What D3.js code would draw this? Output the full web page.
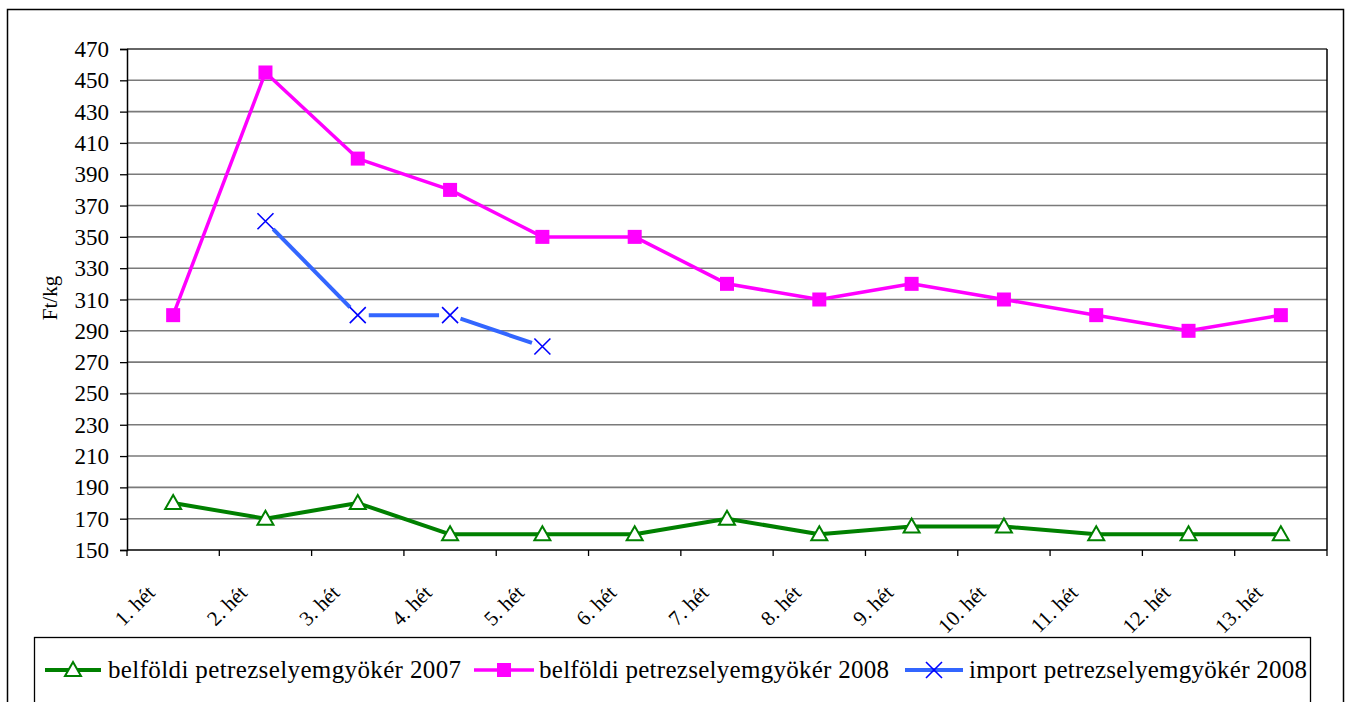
<!DOCTYPE html>
<html>
<head>
<meta charset="utf-8">
<script src="https://cdn.jsdelivr.net/npm/d3@7"></script>
<style>
  body { margin: 0; background: #fff; }
  svg text { font-family: "Liberation Serif", "Times New Roman", serif; fill: #000; }
</style>
</head>
<body>
<svg id="chart" width="1346" height="702"></svg>
<script>
// data
var weeks = ["1. hét", "2. hét", "3. hét", "4. hét", "5. hét", "6. hét", "7. hét",
             "8. hét", "9. hét", "10. hét", "11. hét", "12. hét", "13. hét"];
var belfoldi2007 = [180, 170, 180, 160, 160, 160, 170, 160, 165, 165, 160, 160, 160];
var belfoldi2008 = [300, 455, 400, 380, 350, 350, 320, 310, 320, 310, 300, 290, 300];
var import2008 = [null, 360, 300, 300, 280, null, null, null, null, null, null, null, null];
var yTicks = [150, 170, 190, 210, 230, 250, 270, 290, 310, 330, 350, 370, 390, 410, 430, 450, 470];
var seriesNames = ["belföldi petrezselyemgyökér 2007", "belföldi petrezselyemgyökér 2008", "import petrezselyemgyökér 2008"];

var serif = "'Liberation Serif', 'Times New Roman', serif";
var svg = d3.select("#chart");

// outer chart frame
svg.append("rect")
    .attr("x", 7.5).attr("y", 9.5)
    .attr("width", 1336).attr("height", 720)
    .attr("fill", "none").attr("stroke", "#000").attr("stroke-width", 1.5);

var plot = { left: 127, top: 49, right: 1327, bottom: 550 };

var x = d3.scaleBand()
    .domain(weeks)
    .range([plot.left, plot.right])
    .padding(0);

var y = d3.scaleLinear()
    .domain([150, 470])
    .range([plot.bottom, plot.top]);

function cx(i) { return x(weeks[i]) + x.bandwidth() / 2; }

// gridlines
svg.append("g").selectAll("line")
    .data(yTicks.slice(1, -1))
    .enter().append("line")
    .attr("x1", plot.left).attr("x2", plot.right)
    .attr("y1", function (d) { return y(d); })
    .attr("y2", function (d) { return y(d); })
    .attr("stroke", "#7a7a7a").attr("stroke-width", 1.6);

// plot border
svg.append("line")
    .attr("x1", plot.left).attr("x2", plot.right)
    .attr("y1", plot.top).attr("y2", plot.top)
    .attr("stroke", "#333").attr("stroke-width", 1.6);
svg.append("line")
    .attr("x1", plot.right).attr("x2", plot.right)
    .attr("y1", plot.top).attr("y2", plot.bottom)
    .attr("stroke", "#000").attr("stroke-width", 1.5);

// y axis: ticks from d3, labels drawn separately
var yAxis = svg.append("g")
    .attr("transform", "translate(" + plot.left + ",0)")
    .call(d3.axisLeft(y).tickValues(yTicks).tickSize(7).tickFormat(""));
yAxis.select(".domain").attr("stroke", "#000").attr("stroke-width", 1.5);
yAxis.selectAll(".tick line").attr("stroke", "#000").attr("stroke-width", 1.3);

svg.append("g").selectAll("text")
    .data(yTicks)
    .enter().append("text")
    .attr("x", plot.left - 18)
    .attr("y", function (d) { return y(d); })
    .attr("dy", "0.35em")
    .attr("text-anchor", "end")
    .style("font-size", "23px")
    .style("font-family", serif)
    .text(function (d) { return d; });

// x axis (ticks at category boundaries)
var xAxisG = svg.append("g");
xAxisG.append("line")
    .attr("x1", plot.left).attr("x2", plot.right)
    .attr("y1", plot.bottom).attr("y2", plot.bottom)
    .attr("stroke", "#000").attr("stroke-width", 1.5);
xAxisG.selectAll("line.tk")
    .data(weeks.concat(["end"]))
    .enter().append("line")
    .attr("class", "tk")
    .attr("x1", function (d, i) { return plot.left + i * x.bandwidth(); })
    .attr("x2", function (d, i) { return plot.left + i * x.bandwidth(); })
    .attr("y1", plot.bottom).attr("y2", plot.bottom + 6)
    .attr("stroke", "#000").attr("stroke-width", 1.3);
xAxisG.selectAll("text")
    .data(weeks)
    .enter().append("text")
    .attr("transform", function (d, i) {
        return "translate(" + (cx(i) - 17) + "," + (plot.bottom + 44) + ") rotate(-45)";
    })
    .attr("text-anchor", "end")
    .style("font-size", "21px")
    .style("font-family", serif)
    .text(function (d) { return d; });

// y axis title
svg.append("text")
    .attr("transform", "translate(57,298) rotate(-90)")
    .attr("text-anchor", "middle")
    .style("font-size", "21px")
    .style("font-family", serif)
    .text("Ft/kg");

// series lines
var line = d3.line()
    .defined(function (d) { return d != null; })
    .x(function (d, i) { return cx(i); })
    .y(function (d) { return y(d); });

svg.append("path")
    .datum(belfoldi2007)
    .attr("d", line)
    .attr("fill", "none").attr("stroke", "#008000").attr("stroke-width", 4)
    .attr("stroke-linejoin", "round");

svg.append("path")
    .datum(belfoldi2008)
    .attr("d", line)
    .attr("fill", "none").attr("stroke", "#ff00ff").attr("stroke-width", 3.5)
    .attr("stroke-linejoin", "round");

// import line: segments stop short of the markers
var importSegs = [];
import2008.forEach(function (v, i) {
    var n = import2008[i + 1];
    if (v != null && n != null) importSegs.push({ x1: cx(i), y1: y(v), x2: cx(i + 1), y2: y(n) });
});
svg.append("g").selectAll("line")
    .data(importSegs)
    .enter().append("line")
    .each(function (d) {
        var dx = d.x2 - d.x1, dy = d.y2 - d.y1, len = Math.sqrt(dx * dx + dy * dy);
        var g = 11;
        d3.select(this)
            .attr("x1", d.x1 + dx / len * g).attr("y1", d.y1 + dy / len * g)
            .attr("x2", d.x2 - dx / len * g).attr("y2", d.y2 - dy / len * g);
    })
    .attr("stroke", "#3366ff").attr("stroke-width", 4);

// markers
function drawTriangle(g, px, py) {
    g.append("path")
        .attr("d", "M0,-8L8,6L-8,6Z")
        .attr("transform", "translate(" + px + "," + py + ")")
        .attr("fill", "#fff").attr("stroke", "#008000").attr("stroke-width", 2);
}
function drawSquare(g, px, py) {
    g.append("rect")
        .attr("x", px - 7).attr("y", py - 7)
        .attr("width", 14).attr("height", 14)
        .attr("fill", "#ff00ff");
}
function drawCross(g, px, py) {
    g.append("path")
        .attr("d", "M-8,-8L8,8M-8,8L8,-8")
        .attr("transform", "translate(" + px + "," + py + ")")
        .attr("stroke", "#0000ff").attr("stroke-width", 1.6).attr("fill", "none");
}

var mk = svg.append("g");
belfoldi2007.forEach(function (v, i) { drawTriangle(mk, cx(i), y(v)); });
belfoldi2008.forEach(function (v, i) { drawSquare(mk, cx(i), y(v)); });
import2008.forEach(function (v, i) { if (v != null) drawCross(mk, cx(i), y(v)); });

// legend
svg.append("rect")
    .attr("x", 34.5).attr("y", 637.5)
    .attr("width", 1276).attr("height", 100)
    .attr("fill", "#fff").attr("stroke", "#000").attr("stroke-width", 1.3);

var legendItems = [
    { name: seriesNames[0], x0: 45, x1: 101, tx: 108, tw: 353, color: "#008000", w: 4, marker: drawTriangle },
    { name: seriesNames[1], x0: 474, x1: 534, tx: 539, tw: 350, color: "#ff00ff", w: 3.5, marker: drawSquare },
    { name: seriesNames[2], x0: 905, x1: 963, tx: 969, tw: 338, color: "#3366ff", w: 4, marker: drawCross }
];
var ly = 670;
var lg = svg.append("g");
legendItems.forEach(function (d) {
    lg.append("line")
        .attr("x1", d.x0).attr("x2", d.x1)
        .attr("y1", ly).attr("y2", ly)
        .attr("stroke", d.color).attr("stroke-width", d.w);
    d.marker(lg, (d.x0 + d.x1) / 2, ly);
    lg.append("text")
        .attr("x", d.tx).attr("y", ly + 8)
        .style("font-size", "25px")
        .style("font-family", serif)
        .attr("textLength", d.tw)
        .attr("lengthAdjust", "spacing")
        .text(d.name);
});
</script>
</body>
</html>
